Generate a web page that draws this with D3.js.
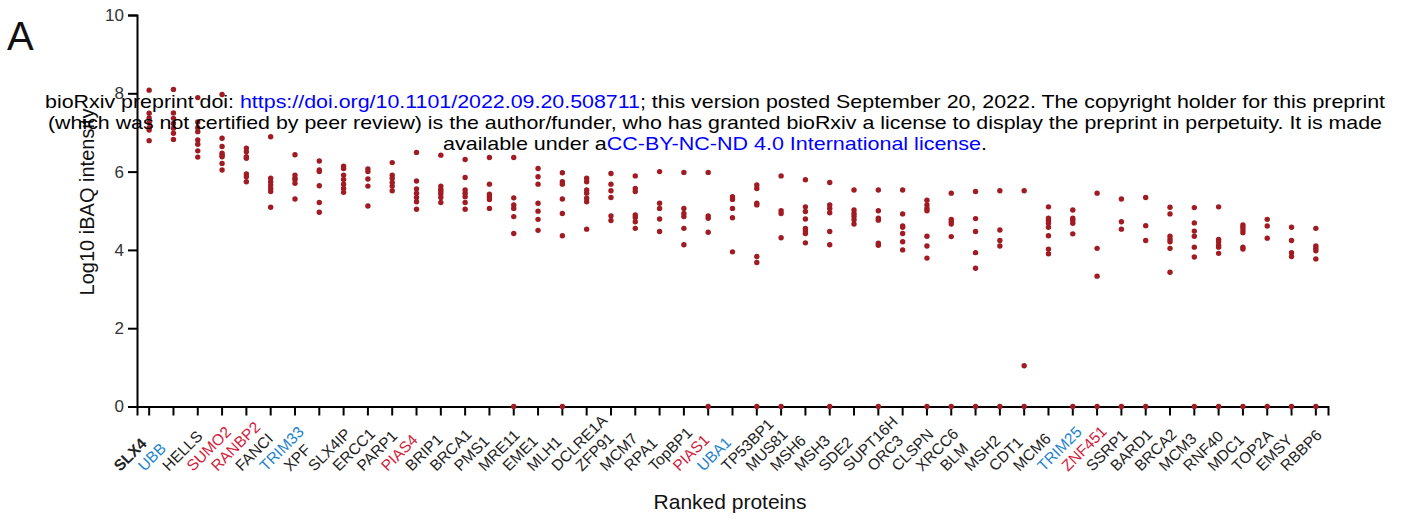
<!DOCTYPE html>
<html>
<head>
<meta charset="utf-8">
<script src="https://cdn.jsdelivr.net/npm/d3@7"></script>
<style>
  body { margin: 0; background: #fff; }
  svg { display: block; font-family: "Liberation Sans", Arial, sans-serif; }
</style>
</head>
<body>
<div id="main"></div>
<script>
var proteins = ['SLX4', 'UBB', 'HELLS', 'SUMO2', 'RANBP2', 'FANCI', 'TRIM33', 'XPF', 'SLX4IP', 'ERCC1',
    'PARP1', 'PIAS4', 'BRIP1', 'BRCA1', 'PMS1', 'MRE11', 'EME1', 'MLH1', 'DCLRE1A', 'ZFP91',
    'MCM7', 'RPA1', 'TopBP1', 'PIAS1', 'UBA1', 'TP53BP1', 'MUS81', 'MSH6', 'MSH3', 'SDE2',
    'SUPT16H', 'ORC3', 'CLSPN', 'XRCC6', 'BLM', 'MSH2', 'CDT1', 'MCM6', 'TRIM25', 'ZNF451',
    'SSRP1', 'BARD1', 'BRCA2', 'MCM3', 'RNF40', 'MDC1', 'TOP2A', 'EMSY', 'RBBP6'];

// label highlight groups
var ubiquitinProteins = ['UBB', 'TRIM33', 'UBA1', 'TRIM25'];
var sumoProteins = ['SUMO2', 'RANBP2', 'PIAS4', 'PIAS1', 'ZNF451'];

// log10 iBAQ per replicate, same order as proteins
var intensity = [
    [8.08, 7.49, 7.37, 7.25, 7.12, 7.06, 6.79],
    [8.10, 7.50, 7.36, 7.23, 7.11, 6.98, 6.82],
    [7.89, 7.27, 7.12, 7.02, 6.81, 6.70, 6.53, 6.37],
    [7.97, 6.85, 6.64, 6.47, 6.42, 6.38, 6.21, 6.04],
    [6.60, 6.51, 6.38, 6.34, 5.94, 5.87, 5.74],
    [6.89, 5.83, 5.74, 5.66, 5.57, 5.49, 5.09],
    [6.43, 5.91, 5.83, 5.79, 5.70, 5.30],
    [6.27, 6.04, 6.00, 5.64, 5.21, 4.96],
    [6.14, 6.08, 5.91, 5.80, 5.68, 5.57, 5.47],
    [6.07, 6.00, 5.81, 5.63, 5.12],
    [6.23, 5.91, 5.83, 5.72, 5.63, 5.51],
    [6.49, 5.76, 5.56, 5.45, 5.34, 5.23, 5.04],
    [6.42, 5.63, 5.55, 5.49, 5.43, 5.34, 5.21],
    [6.31, 5.85, 5.53, 5.45, 5.36, 5.21, 5.04],
    [6.36, 5.68, 5.42, 5.36, 5.29, 5.06],
    [6.36, 5.33, 5.15, 5.06, 4.85, 4.42, 0],
    [6.08, 5.87, 5.68, 5.19, 4.99, 4.78, 4.50],
    [5.97, 5.74, 5.68, 5.30, 4.93, 4.36, 0],
    [5.83, 5.74, 5.53, 5.45, 5.32, 5.23, 4.53],
    [5.95, 5.68, 5.51, 5.34, 4.87, 4.75],
    [5.89, 5.57, 5.49, 4.89, 4.83, 4.72, 4.55],
    [6.00, 5.19, 5.06, 4.79, 4.47],
    [5.98, 5.06, 4.93, 4.85, 4.55, 4.13],
    [5.98, 4.87, 4.81, 4.45, 0],
    [5.36, 5.29, 5.06, 4.82, 3.95],
    [5.66, 5.57, 5.19, 5.15, 3.83, 3.68, 0],
    [5.89, 5.00, 4.93, 4.31, 0],
    [5.79, 5.10, 4.98, 4.79, 4.55, 4.49, 4.42, 4.18],
    [5.72, 5.15, 5.06, 4.95, 4.47, 4.13, 0],
    [5.53, 5.02, 4.93, 4.86, 4.77, 4.66],
    [5.53, 5.00, 4.81, 4.76, 4.17, 4.12, 0],
    [5.53, 4.92, 4.61, 4.58, 4.42, 4.21, 4.00],
    [5.27, 5.15, 5.06, 5.00, 4.35, 4.10, 3.79, 0],
    [5.45, 4.78, 4.72, 4.66, 4.34, 0],
    [5.49, 4.80, 4.47, 3.93, 3.53, 0],
    [5.51, 4.51, 4.24, 4.10, 0],
    [5.51, 1.04, 0],
    [5.10, 4.81, 4.75, 4.68, 4.58, 4.36, 4.02, 3.90],
    [5.02, 4.81, 4.75, 4.68, 4.41, 0],
    [5.45, 4.04, 3.33, 0],
    [5.30, 4.72, 4.53, 0],
    [5.34, 4.62, 4.24, 0],
    [5.09, 4.92, 4.35, 4.27, 4.21, 4.04, 3.43],
    [5.08, 4.69, 4.48, 4.35, 4.07, 3.82, 0],
    [5.10, 4.27, 4.21, 4.12, 4.07, 3.91, 0],
    [4.64, 4.58, 4.51, 4.44, 4.07, 4.02, 0],
    [4.78, 4.61, 4.30, 0],
    [4.58, 4.24, 3.93, 3.83, 0],
    [4.55, 4.10, 4.04, 3.98, 3.77, 0]
];

var yTicks = [0, 2, 4, 6, 8, 10];

var width = 1406, height = 521;
var svg = d3.select('#main').append('svg')
    .attr('width', width).attr('height', height);

var x = d3.scaleBand().domain(proteins).range([137, 1328]);
var y = d3.scaleLinear().domain([0, 10]).range([406.5, 15]);

var labelColor = function(p) {
    if (ubiquitinProteins.indexOf(p) != -1) return '#1f83cc';
    if (sumoProteins.indexOf(p) != -1) return '#d3213a';
    return '#222';
};

// y axis
var yAxis = svg.append('g')
    .attr('transform', 'translate(137,0)')
    .call(d3.axisLeft(y).tickValues(yTicks).tickSize(9).tickPadding(4));
yAxis.select('.domain').attr('stroke', '#000').attr('stroke-width', 2);
yAxis.selectAll('.tick line').attr('stroke', '#000').attr('stroke-width', 2);
yAxis.selectAll('.tick text')
    .style('font-size', '17px').style('font-family', '"Liberation Sans", Arial, sans-serif')
    .attr('fill', '#333');

// x axis
var xAxis = svg.append('g')
    .attr('transform', 'translate(0,' + y(0) + ')')
    .call(d3.axisBottom(x).tickSizeOuter(0).tickSize(9).tickFormat(''));
xAxis.select('.domain').attr('stroke', '#000').attr('stroke-width', 2);
xAxis.selectAll('.tick line').attr('stroke', '#000').attr('stroke-width', 2);

// rotated labels start just below-left of each tick
svg.selectAll('.xlabel').data(proteins)
    .enter().append('text')
    .attr('class', 'xlabel')
    .attr('transform', function(d) {
        return 'translate(' + (x(d) + x.bandwidth() / 2 - 29) + ',472) rotate(-45)';
    })
    .style('text-anchor', 'start')
    .style('font-size', '15.5px')
    .style('font-weight', function(d) { return d === 'SLX4' ? 'bold' : 'normal'; })
    .attr('fill', labelColor)
    .text(function(d) { return d; });

// points
var points = [];
proteins.forEach(function(p, i) {
    intensity[i].forEach(function(v) { points.push({ protein: p, value: v }); });
});

svg.selectAll('.point').data(points)
    .enter().append('circle')
    .attr('class', 'point')
    .attr('cx', function(d) { return x(d.protein) + x.bandwidth() / 2; })
    .attr('cy', function(d) { return y(d.value); })
    .attr('r', 2.7)
    .attr('fill', '#a01b22');

// axis titles
svg.append('text')
    .attr('transform', 'translate(94,202) rotate(-90)')
    .style('text-anchor', 'middle')
    .style('font-size', '20px')
    .attr('fill', '#111')
    .text('Log10 iBAQ intensity');

svg.append('text')
    .attr('x', 730).attr('y', 509)
    .style('text-anchor', 'middle')
    .style('font-size', '21px')
    .attr('fill', '#111')
    .text('Ranked proteins');

// panel letter
svg.append('text')
    .attr('x', 7).attr('y', 50)
    .style('font-size', '40px')
    .attr('fill', '#111')
    .text('A');

// preprint banner
var banner = svg.append('g').style('font-size', '18.5px').attr('fill', '#000');
var line1 = banner.append('text').attr('x', 45).attr('y', 108)
    .attr('textLength', 1340).attr('lengthAdjust', 'spacingAndGlyphs');
line1.append('tspan').text('bioRxiv preprint doi: ');
line1.append('tspan').attr('fill', '#0000ff').text('https://doi.org/10.1101/2022.09.20.508711');
line1.append('tspan').text('; this version posted September 20, 2022. The copyright holder for this preprint');

banner.append('text').attr('x', 48).attr('y', 129)
    .attr('textLength', 1334).attr('lengthAdjust', 'spacingAndGlyphs')
    .text('(which was not certified by peer review) is the author/funder, who has granted bioRxiv a license to display the preprint in perpetuity. It is made');

var line3 = banner.append('text').attr('x', 443).attr('y', 150)
    .attr('textLength', 544).attr('lengthAdjust', 'spacingAndGlyphs');
line3.append('tspan').text('available under a');
line3.append('tspan').attr('fill', '#0000ff').text('CC-BY-NC-ND 4.0 International license');
line3.append('tspan').text('.');
</script>
</body>
</html>
